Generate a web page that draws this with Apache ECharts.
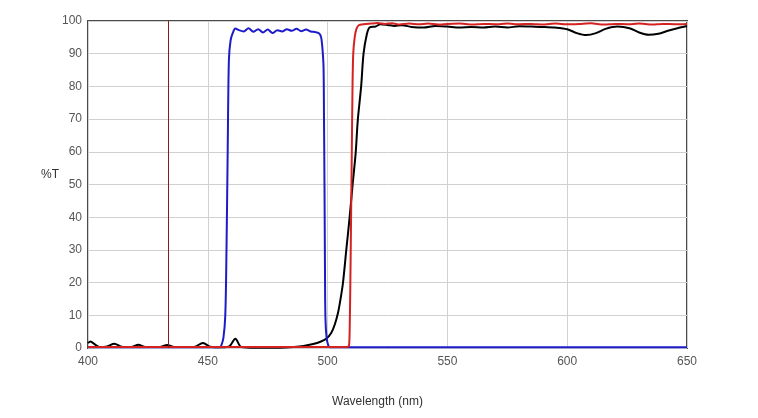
<!DOCTYPE html>
<html>
<head>
<meta charset="utf-8">
<script src="https://cdn.jsdelivr.net/npm/echarts@6/dist/echarts.min.js"></script>
<style>
  html, body { margin: 0; padding: 0; background: #fff; }
  #chart { width: 758px; height: 418px; }
</style>
</head>
<body>
<div id="chart"></div>
<script>
// 波长范围和刻度
var xTicks = [400, 450, 500, 550, 600, 650]
var yTicks = [0, 10, 20, 30, 40, 50, 60, 70, 80, 90, 100]
var markerWavelength = 433.4

// 黑色曲线
var blackX = [400, 401, 403, 405, 408, 411, 414, 418, 421, 424, 430, 433, 436, 444, 448, 451, 456, 459, 461.5, 464, 470, 480, 486, 490, 494, 497, 499.4, 501.5, 503, 504.3, 505.4, 506.4, 507.8, 509.2, 510.5, 511.7, 512.6, 514, 515, 516.4, 517.5, 520, 522, 525, 528, 531, 535, 540, 545, 550, 555, 560, 565, 570, 575, 580, 585, 590, 595, 600, 604, 608, 612, 616, 621, 626, 630, 634, 638, 642, 646, 650]
var blackY = [1.5, 2.0, 1.0, 0.3, 0.5, 1.3, 0.4, 0.3, 1.0, 0.3, 0.3, 0.9, 0.3, 0.3, 1.5, 0.4, 0.2, 0.5, 2.8, 0.3, 0.1, 0.1, 0.3, 0.6, 1.2, 1.9, 2.8, 4.6, 7.2, 10.6, 15, 19.8, 30, 40, 50.4, 59.5, 69.7, 80, 90, 96, 98, 98.3, 99, 98.8, 98.5, 98.7, 98.2, 98, 98.5, 98.3, 98, 98.2, 98, 98.3, 98, 98.4, 98.3, 98.2, 98, 97.5, 96.3, 95.7, 96.3, 97.6, 98.3, 97.8, 96.5, 95.8, 96.1, 97, 97.8, 98.5]

// 蓝色曲线
var blueX = [400, 455, 455.5, 456.5, 457.3, 457.8, 458.3, 458.8, 459.5, 460.5, 461.5, 463, 465, 467, 469, 471, 473, 475, 477, 479, 481, 483, 485, 487, 489, 491, 493, 495, 496.5, 497.3, 497.8, 498.3, 498.5, 498.7, 498.9, 499.1, 499.6, 500.3, 501, 650]
var blueY = [0.2, 0.2, 0.5, 3, 10, 30, 60, 88, 94, 96.5, 97.7, 97.2, 96.8, 97.8, 96.7, 97.5, 96.5, 97.4, 96.3, 97.2, 96.8, 97.5, 97, 97.6, 96.9, 97.4, 96.8, 96.6, 96.2, 95, 92, 86, 70, 50, 25, 9, 3, 0.8, 0.2, 0.2]

// 红色曲线
var redX = [400, 508, 508.9, 509.2, 509.5, 509.8, 510.1, 510.4, 510.7, 511.3, 512, 513, 515, 518, 521, 524, 527, 530, 534, 538, 542, 546, 550, 555, 560, 565, 570, 575, 580, 585, 590, 595, 600, 605, 610, 615, 620, 625, 630, 635, 640, 645, 650]
var redY = [0.3, 0.3, 0.5, 5, 20, 40, 60, 80, 90, 95, 97.5, 98.7, 99, 99.2, 99.4, 99.1, 99.3, 98.9, 99.2, 99, 99.2, 98.9, 99.1, 99.2, 98.9, 99.1, 99, 99.2, 99, 99.1, 98.9, 99.2, 99, 99.1, 99.3, 98.9, 99.1, 99, 99.2, 98.9, 99.1, 99, 99.1]

function zip (xs, ys) {
  return xs.map(function (x, i) { return [x, ys[i]] })
}

var myChart = echarts.init(document.getElementById('chart'))
myChart.setOption({
  animation: false,
  grid: {
    left: 88,
    right: 71,
    top: 21,
    bottom: 70,
    show: true,
    borderColor: '#4a4a4a',
    borderWidth: 2,
    backgroundColor: '#fff'
  },
  xAxis: {
    type: 'value',
    min: xTicks[0],
    max: xTicks[xTicks.length - 1],
    interval: 50,
    name: 'Wavelength (nm)',
    nameLocation: 'middle',
    nameGap: 48,
    nameTextStyle: { color: '#333', fontSize: 12, fontFamily: 'Liberation Sans', padding: [0, 20, 0, 0] },
    axisLine: { show: false },
    axisTick: { show: false },
    axisLabel: { color: '#555', fontSize: 12, fontFamily: 'Liberation Sans', margin: 8 },
    splitLine: { show: true, lineStyle: { color: '#d0d0d0', width: 1 } }
  },
  yAxis: {
    type: 'value',
    min: yTicks[0],
    max: yTicks[yTicks.length - 1],
    interval: 10,
    name: '%T',
    nameLocation: 'middle',
    nameRotate: 0,
    nameGap: 29,
    nameMoveOverlap: false,
    nameTextStyle: { color: '#333', fontSize: 12, fontFamily: 'Liberation Sans', verticalAlign: 'bottom', padding: [0, 0, 4, 0] },
    axisLine: { show: false },
    axisTick: { show: false },
    axisLabel: { color: '#555', fontSize: 12, fontFamily: 'Liberation Sans', margin: 6 },
    splitLine: { show: true, lineStyle: { color: '#d0d0d0', width: 1 } }
  },
  series: [
    {
      type: 'line',
      data: zip(blackX, blackY),
      smooth: 0.3,
      showSymbol: false,
      lineStyle: { color: '#000', width: 2 },
      markLine: {
        silent: true,
        symbol: 'none',
        label: { show: false },
        lineStyle: { color: '#8b1a1a', width: 1, type: 'solid' },
        data: [{ xAxis: markerWavelength }]
      }
    },
    {
      type: 'line',
      data: zip(blueX, blueY),
      smooth: 0.3,
      showSymbol: false,
      lineStyle: { color: '#1c1cc8', width: 2 }
    },
    {
      type: 'line',
      data: zip(redX, redY),
      smooth: 0.2,
      showSymbol: false,
      lineStyle: { color: '#d42222', width: 2 }
    }
  ]
})
</script>
</body>
</html>
